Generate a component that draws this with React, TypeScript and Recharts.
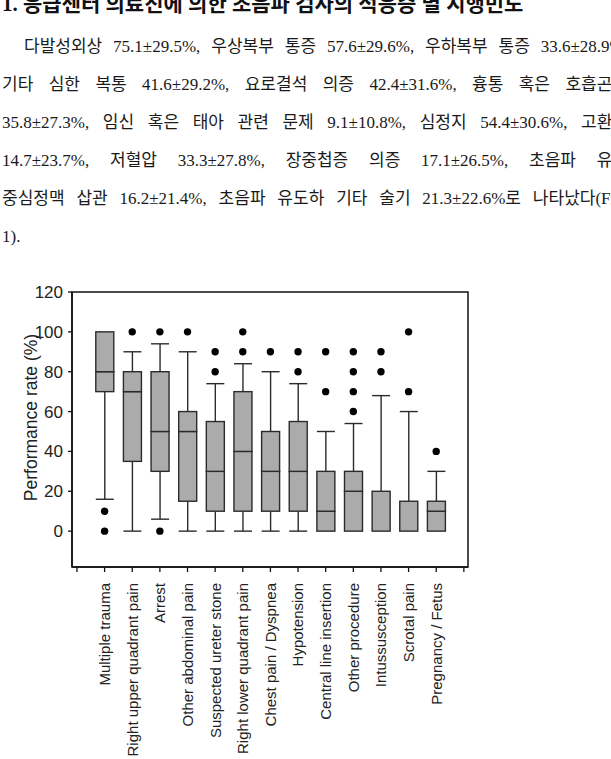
import { ComposedChart, Bar, Scatter, XAxis, YAxis, ReferenceArea } from 'recharts'

const categories = [
  'Multiple trauma', 'Right upper quadrant pain', 'Arrest', 'Other abdominal pain',
  'Suspected ureter stone', 'Right lower quadrant pain', 'Chest pain / Dyspnea', 'Hypotension',
  'Central line insertion', 'Other procedure', 'Intussusception', 'Scrotal pain', 'Pregnancy / Fetus',
]
const whiskerLow  = [16, 0, 6, 0, 0, 0, 0, 0, 0, 0, 0, 0, 0]
const q1          = [70, 35, 30, 15, 10, 10, 10, 10, 0, 0, 0, 0, 0]
const median      = [80, 70, 50, 50, 30, 40, 30, 30, 10, 20, 0, 0, 10]
const q3          = [100, 80, 80, 60, 55, 70, 50, 55, 30, 30, 20, 15, 15]
const whiskerHigh = [100, 90, 94, 90, 74, 84, 80, 74, 50, 54, 68, 60, 30]
const outliers    = [
  [10, 0], [100], [100, 0], [100], [90, 80], [100, 90], [90],
  [90, 80], [90, 70], [90, 80, 70, 60], [90, 80], [100, 70], [40],
]
const yTicks = [0, 20, 40, 60, 80, 100, 120]
const xTicks = [0, 1, 2, 3, 4, 5, 6, 7, 8, 9, 10, 11, 12, 13, 14]

const heading = '1. 응급센터 의료진에 의한 초음파 검사의 적응증 별 시행빈도'
const textLines = [
  '다발성외상 75.1±29.5%, 우상복부 통증 57.6±29.6%, 우하복부 통증 33.6±28.9%,',
  '기타 심한 복통 41.6±29.2%, 요로결석 의증 42.4±31.6%, 흉통 혹은 호흡곤란',
  '35.8±27.3%, 임신 혹은 태아 관련 문제 9.1±10.8%, 심정지 54.4±30.6%, 고환통',
  '14.7±23.7%, 저혈압 33.3±27.8%, 장중첩증 의증 17.1±26.5%, 초음파 유도',
  '중심정맥 삽관 16.2±21.4%, 초음파 유도하 기타 술기 21.3±22.6%로 나타났다(Fig.',
]
const lastLine = '1).'

const rows = categories.map((name, i) => ({
  x: i + 1,
  name,
  base: whiskerLow[i],
  lowW: q1[i] - whiskerLow[i],
  lowBox: median[i] - q1[i],
  highBox: q3[i] - median[i],
  highW: whiskerHigh[i] - q3[i],
}))
const outlierPts = outliers.flatMap((vals, i) => vals.map(v => ({ x: i + 1, y: v })))

const BOX_FILL = '#ababab'
const LINE = '#2b2b2b'
const SANS = "'Liberation Sans', Arial, Helvetica, sans-serif"
const SERIF = "'Liberation Serif', 'Times New Roman', 'Noto Sans CJK KR', serif"

const BoxPart = (p: any) => {
  if (!p.height || p.height < 0.5) return null
  return <rect x={p.x} y={p.y} width={p.width} height={p.height} fill={BOX_FILL} stroke={LINE} strokeWidth={1.4} />
}

const LowWhisker = (p: any) => {
  if (!p.height || p.height < 0.5) return null
  const cx = p.x + p.width / 2
  const yb = p.y + p.height
  return (
    <g stroke={LINE} strokeWidth={1.4}>
      <line x1={cx} x2={cx} y1={p.y} y2={yb} />
      <line x1={p.x} x2={p.x + p.width} y1={yb} y2={yb} />
    </g>
  )
}

const HighWhisker = (p: any) => {
  if (!p.height || p.height < 0.5) return null
  const cx = p.x + p.width / 2
  return (
    <g stroke={LINE} strokeWidth={1.4}>
      <line x1={cx} x2={cx} y1={p.y} y2={p.y + p.height} />
      <line x1={p.x} x2={p.x + p.width} y1={p.y} y2={p.y} />
    </g>
  )
}

const Dot = (p: any) => <circle cx={p.cx} cy={p.cy} r={3.7} fill="#000" />

const CatTick = ({ x, y, payload }: any) => {
  const label = categories[payload.value - 1]
  if (!label) return null
  const ty = y + 9
  return (
    <text x={x} y={ty} transform={`rotate(-90 ${x} ${ty})`} textAnchor="end" dy="0.36em"
      fontSize={15} fill="#222" fontFamily={SANS}>
      {label}
    </text>
  )
}

const YLabel = ({ viewBox }: any) => {
  const vb = viewBox || { x: 0, y: 22, width: 72, height: 275 }
  const x = vb.x + 31
  const y = vb.y + vb.height / 2 - 12
  return (
    <text x={x} y={y} transform={`rotate(-90 ${x} ${y})`} textAnchor="middle" dy="0.36em"
      fontSize={17.5} fill="#222" fontFamily={SANS}>
      Performance rate (%)
    </text>
  )
}

export default function App() {
  return (
    <div style={{ position: 'absolute', left: 0, top: 0, width: 611, height: 759, overflow: 'hidden', background: '#fff' }}>
      <div style={{
        position: 'absolute', left: 2, top: -15, whiteSpace: 'nowrap', fontFamily: SERIF,
        fontSize: 21, fontWeight: 'bold', lineHeight: '38px', color: '#111',
      }}>
        {heading}
      </div>
      {textLines.map((t, i) => (
        <div key={i} style={{
          position: 'absolute', left: i === 0 ? 24 : 2, top: 28 + i * 38, width: i === 0 ? 604 : 626,
          whiteSpace: 'nowrap', textAlign: 'justify', textAlignLast: 'justify', fontFamily: SERIF,
          fontSize: 17, lineHeight: '38px', color: '#1a1a1a',
        }}>
          {t}
        </div>
      ))}
      <div style={{
        position: 'absolute', left: 2, top: 28 + 5 * 38, fontFamily: SERIF,
        fontSize: 17, lineHeight: '38px', color: '#1a1a1a',
      }}>
        {lastLine}
      </div>

      <div style={{ position: 'absolute', left: 0, top: 270 }}>
        <ComposedChart width={480} height={489} data={rows} margin={{ top: 22, right: 12, left: 0, bottom: 0 }}>
          <XAxis
            dataKey="x"
            type="number"
            domain={[-0.18, 14.15]}
            allowDataOverflow
            ticks={xTicks}
            interval={0}
            height={192}
            tick={<CatTick />}
            tickSize={5}
            tickLine={{ stroke: '#111', strokeWidth: 1.3 }}
            axisLine={{ stroke: '#111', strokeWidth: 1.5 }}
          />
          <YAxis
            type="number"
            domain={[-18, 120]}
            allowDataOverflow
            ticks={yTicks}
            width={72}
            tickSize={4}
            tickMargin={5}
            tick={{ fontSize: 17, fill: '#222', fontFamily: SANS }}
            tickLine={{ stroke: '#111', strokeWidth: 1.3 }}
            axisLine={{ stroke: '#111', strokeWidth: 1.5 }}
            label={<YLabel />}
          />
          <ReferenceArea x1={-0.18} x2={14.15} y1={-18} y2={120} fill="none" stroke="#111" strokeWidth={1.5} />
          <Bar dataKey="base" stackId="b" barSize={18} fill="transparent" isAnimationActive={false} shape={() => null} />
          <Bar dataKey="lowW" stackId="b" barSize={18} isAnimationActive={false} shape={<LowWhisker />} />
          <Bar dataKey="lowBox" stackId="b" barSize={18} isAnimationActive={false} shape={<BoxPart />} />
          <Bar dataKey="highBox" stackId="b" barSize={18} isAnimationActive={false} shape={<BoxPart />} />
          <Bar dataKey="highW" stackId="b" barSize={18} isAnimationActive={false} shape={<HighWhisker />} />
          <Scatter data={outlierPts} dataKey="y" isAnimationActive={false} shape={<Dot />} />
        </ComposedChart>
      </div>
    </div>
  )
}
